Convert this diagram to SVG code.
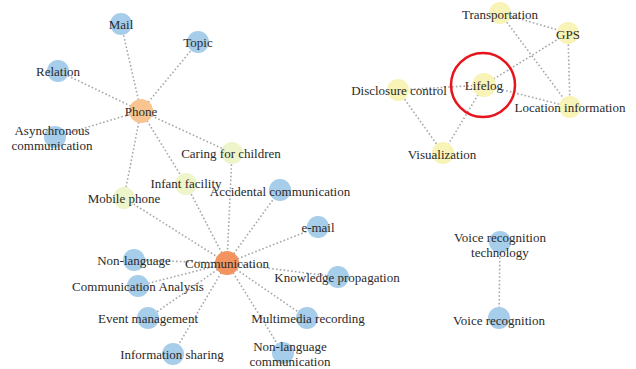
<svg xmlns="http://www.w3.org/2000/svg" width="636" height="369" viewBox="0 0 636 369">
<style>
.e{stroke:#a8a8a8;stroke-width:1.6;stroke-dasharray:1.6 2.2;fill:none}
.b{fill:#a6cde9}
.g{fill:#eef5cb}
.y{fill:#f8f3b6}
.o1{fill:#f8c590}
.o2{fill:#f3935f}
text{font-family:"Liberation Serif","Times New Roman",serif;font-size:13px;fill:#2a2a2a;text-anchor:middle;dominant-baseline:central}
</style>
<rect width="636" height="369" fill="#ffffff"/>
<g id="connectors">
<line class="e" x1="141" y1="111" x2="121" y2="24"/>
<line class="e" x1="141" y1="111" x2="198" y2="42"/>
<line class="e" x1="141" y1="111" x2="58" y2="71"/>
<line class="e" x1="141" y1="111" x2="55" y2="137"/>
<line class="e" x1="141" y1="111" x2="232" y2="153"/>
<line class="e" x1="141" y1="111" x2="186" y2="184"/>
<line class="e" x1="141" y1="111" x2="124" y2="198"/>
<line class="e" x1="232" y1="153" x2="227" y2="263"/>
<line class="e" x1="186" y1="184" x2="227" y2="263"/>
<line class="e" x1="124" y1="198" x2="227" y2="263"/>
<line class="e" x1="227" y1="263" x2="280" y2="190"/>
<line class="e" x1="227" y1="263" x2="318" y2="227"/>
<line class="e" x1="227" y1="263" x2="134" y2="260"/>
<line class="e" x1="227" y1="263" x2="138" y2="286"/>
<line class="e" x1="227" y1="263" x2="148" y2="318"/>
<line class="e" x1="227" y1="263" x2="173" y2="354"/>
<line class="e" x1="227" y1="263" x2="283" y2="353"/>
<line class="e" x1="227" y1="263" x2="307" y2="318"/>
<line class="e" x1="227" y1="263" x2="338" y2="277"/>
<line class="e" x1="484" y1="85" x2="568" y2="33"/>
<line class="e" x1="484" y1="85" x2="398" y2="90"/>
<line class="e" x1="484" y1="85" x2="570" y2="107"/>
<line class="e" x1="484" y1="85" x2="443" y2="153"/>
<line class="e" x1="500" y1="13" x2="568" y2="33"/>
<line class="e" x1="500" y1="13" x2="570" y2="107"/>
<line class="e" x1="568" y1="33" x2="570" y2="107"/>
<line class="e" x1="398" y1="90" x2="443" y2="153"/>
<line class="e" x1="500" y1="242" x2="499" y2="318"/>
</g>
<g id="phone"><circle class="o1" cx="141" cy="111" r="12"/><text x="141" y="111">Phone</text></g>
<g id="mail"><circle class="b" cx="121" cy="24" r="11"/><text x="121" y="24">Mail</text></g>
<g id="topic"><circle class="b" cx="198" cy="42" r="11"/><text x="198" y="42">Topic</text></g>
<g id="relation"><circle class="b" cx="58" cy="71" r="11"/><text x="58" y="71">Relation</text></g>
<g id="asynchronous"><circle class="b" cx="55" cy="137" r="11"/><text x="52" y="130">Asynchronous</text><text x="52" y="145">communication</text></g>
<g id="caring"><circle class="g" cx="232" cy="153" r="11"/><text x="231" y="153">Caring for children</text></g>
<g id="infant"><circle class="g" cx="186" cy="184" r="11"/><text x="186" y="183">Infant facility</text></g>
<g id="mobile"><circle class="g" cx="124" cy="198" r="11"/><text x="124" y="198">Mobile phone</text></g>
<g id="accidental"><circle class="b" cx="280" cy="190" r="11"/><text x="280" y="191">Accidental communication</text></g>
<g id="email"><circle class="b" cx="318" cy="227" r="11"/><text x="318" y="227">e-mail</text></g>
<g id="communication"><circle class="o2" cx="227" cy="263" r="12"/><text x="227" y="263">Communication</text></g>
<g id="nonlanguage"><circle class="b" cx="134" cy="260" r="11"/><text x="134" y="260">Non-language</text></g>
<g id="analysis"><circle class="b" cx="138" cy="286" r="11"/><text x="138" y="286">Communication Analysis</text></g>
<g id="event"><circle class="b" cx="148" cy="318" r="11"/><text x="148" y="318">Event management</text></g>
<g id="infosharing"><circle class="b" cx="173" cy="354" r="11"/><text x="172" y="354">Information sharing</text></g>
<g id="nonlangcomm"><circle class="b" cx="283" cy="353" r="11"/><text x="290" y="346">Non-language</text><text x="290" y="361">communication</text></g>
<g id="multimedia"><circle class="b" cx="307" cy="318" r="11"/><text x="308" y="318">Multimedia recording</text></g>
<g id="knowledge"><circle class="b" cx="338" cy="277" r="11"/><text x="337" y="277">Knowledge propagation</text></g>
<g id="lifelog"><circle class="y" cx="484" cy="85" r="12"/><text x="484" y="85">Lifelog</text><circle cx="483" cy="85" r="32" fill="none" stroke="#e8141b" stroke-width="2.5"/></g>
<g id="transportation"><circle class="y" cx="500" cy="13" r="11"/><text x="500" y="14">Transportation</text></g>
<g id="gps"><circle class="y" cx="568" cy="33" r="11"/><text x="568" y="34">GPS</text></g>
<g id="disclosure"><circle class="y" cx="398" cy="90" r="11"/><text x="399" y="90">Disclosure control</text></g>
<g id="location"><circle class="y" cx="570" cy="107" r="11"/><text x="570" y="107">Location information</text></g>
<g id="visualization"><circle class="y" cx="443" cy="153" r="11"/><text x="442" y="154">Visualization</text></g>
<g id="vrt"><circle class="b" cx="500" cy="242" r="11"/><text x="500" y="237">Voice recognition</text><text x="500" y="252">technology</text></g>
<g id="vr"><circle class="b" cx="499" cy="318" r="11"/><text x="499" y="320">Voice recognition</text></g>
</svg>
